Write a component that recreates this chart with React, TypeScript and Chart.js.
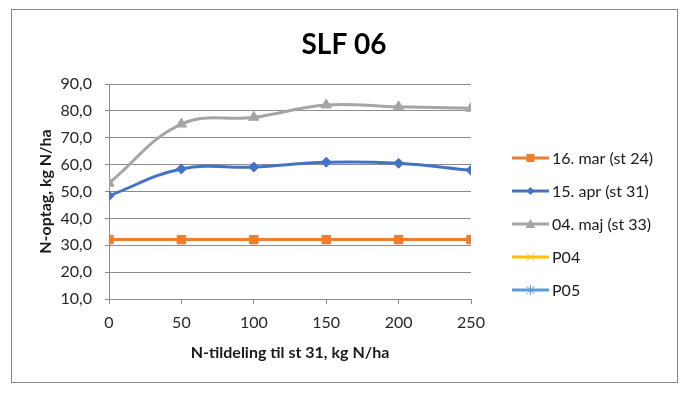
import React, { useEffect, useRef } from "react";
import { Chart, registerables } from "chart.js";

Chart.register(...registerables);

const chartTitle = "SLF 06";
const xAxisTitle = "N-tildeling til st 31, kg N/ha";
const yAxisTitle = "N-optag, kg N/ha";
const xValues = [0, 50, 100, 150, 200, 250];
const mar16 = [32.1, 32.1, 32.1, 32.1, 32.1, 32.1];
const apr15 = [48.4, 58.4, 59.1, 60.9, 60.5, 57.9];
const maj04 = [53.1, 75.1, 77.6, 82.2, 81.5, 81.0];
const p04: number[] = [];
const p05: number[] = [];
const seriesNames = ["16. mar (st 24)", "15. apr (st 31)", "04. maj (st 33)", "P04", "P05"];
const seriesColors = ["#ED7D31", "#4472C4", "#A5A5A5", "#FFC000", "#5B9BD5"];
const seriesMarkers = ["rect", "rectRot", "triangle", "cross", "star"];
const seriesValues = [mar16, apr15, maj04, p04, p05];
const yMin = 10;
const yMax = 90;
const yStep = 10;
const xMin = 0;
const xMax = 250;
const xStep = 50;

const FONT = "Lato, 'Open Sans', sans-serif";

function drawMarker(ctx: CanvasRenderingContext2D, style: string, x: number, y: number, color: string) {
  ctx.save();
  ctx.fillStyle = color;
  ctx.strokeStyle = color;
  ctx.lineWidth = 1;
  ctx.beginPath();
  if (style === "rect") {
    ctx.rect(x - 4, y - 4, 8, 8);
    ctx.fill();
  } else if (style === "rectRot") {
    ctx.moveTo(x, y - 4);
    ctx.lineTo(x + 4, y);
    ctx.lineTo(x, y + 4);
    ctx.lineTo(x - 4, y);
    ctx.closePath();
    ctx.fill();
  } else if (style === "triangle") {
    ctx.moveTo(x, y - 5);
    ctx.lineTo(x + 5, y + 4);
    ctx.lineTo(x - 5, y + 4);
    ctx.closePath();
    ctx.fill();
  } else if (style === "cross") {
    ctx.moveTo(x - 4, y - 4);
    ctx.lineTo(x + 4, y + 4);
    ctx.moveTo(x + 4, y - 4);
    ctx.lineTo(x - 4, y + 4);
    ctx.stroke();
  } else if (style === "star") {
    ctx.moveTo(x - 4, y - 4);
    ctx.lineTo(x + 4, y + 4);
    ctx.moveTo(x + 4, y - 4);
    ctx.lineTo(x - 4, y + 4);
    ctx.moveTo(x, y - 5);
    ctx.lineTo(x, y + 5);
    ctx.stroke();
  }
  ctx.restore();
}

const decorPlugin = {
  id: "decor",
  afterDraw(chart: any) {
    const ctx: CanvasRenderingContext2D = chart.ctx;
    ctx.save();
    // outer border
    ctx.strokeStyle = "#868686";
    ctx.lineWidth = 1;
    ctx.strokeRect(11.5, 9.5, 666, 373);
    // title
    ctx.fillStyle = "#000000";
    ctx.font = `bold 28px ${FONT}`;
    ctx.textAlign = "center";
    ctx.textBaseline = "middle";
    ctx.fillText(chartTitle, 344, 45);
    // legend
    ctx.font = `16px ${FONT}`;
    ctx.textAlign = "left";
    const rowY = 158;
    const rowGap = 33;
    for (let i = 0; i < seriesNames.length; i++) {
      const y = rowY + i * rowGap;
      ctx.strokeStyle = seriesColors[i];
      ctx.lineWidth = 3;
      ctx.beginPath();
      ctx.moveTo(512, y);
      ctx.lineTo(549, y);
      ctx.stroke();
      drawMarker(ctx, seriesMarkers[i], 530.5, y, seriesColors[i]);
      ctx.fillStyle = "#1a1a1a";
      ctx.fillText(seriesNames[i], 552, y + 1);
    }
    ctx.restore();
  },
};

export default function App() {
  const ref = useRef<HTMLCanvasElement | null>(null);
  useEffect(() => {
    document.body.style.margin = "0";
    const canvas = ref.current;
    if (!canvas) return;
    const datasets = seriesValues.map((vals, i) => ({
      label: seriesNames[i],
      data: vals.map((v, j) => ({ x: xValues[j], y: v })),
      borderColor: seriesColors[i],
      backgroundColor: seriesColors[i],
      borderWidth: 3,
      pointStyle: seriesMarkers[i] as any,
      pointRadius: i === 0 ? 6 : i === 1 ? 5 : 6,
      pointBorderWidth: 1,
      tension: i === 0 ? 0 : 0.4,
      cubicInterpolationMode: "default" as const,
    }));
    const chart = new Chart(canvas, {
      type: "line",
      data: { datasets },
      options: {
        animation: false,
        responsive: false,
        layout: { padding: { top: 84, right: 217, left: 0, bottom: 0 } },
        plugins: {
          legend: { display: false },
          title: { display: false },
          tooltip: { enabled: false },
        },
        scales: {
          x: {
            type: "linear",
            min: xMin,
            max: xMax,
            afterFit: (s: any) => {
              s.height = 98;
            },
            ticks: {
              stepSize: xStep,
              color: "#262626",
              font: { family: FONT, size: 16 },
              padding: 9,
              maxRotation: 0,
            },
            grid: {
              display: true,
              drawOnChartArea: false,
              drawTicks: true,
              tickLength: 5,
              color: "#8c8c8c",
            },
            border: { display: true, color: "#8c8c8c", width: 1 },
            title: {
              display: true,
              text: xAxisTitle,
              color: "#1a1a1a",
              font: { family: FONT, size: 16, weight: "bold" },
              padding: { top: 0, bottom: 35 },
            },
          },
          y: {
            type: "linear",
            min: yMin,
            max: yMax,
            afterFit: (s: any) => {
              s.width = 109;
            },
            ticks: {
              stepSize: yStep,
              color: "#262626",
              font: { family: FONT, size: 16 },
              padding: 13,
              callback: (v: any) => Number(v).toFixed(1).replace(".", ","),
            },
            grid: {
              display: true,
              drawTicks: true,
              tickLength: 4,
              color: "#8c8c8c",
            },
            border: { display: true, color: "#8c8c8c", width: 1 },
            title: {
              display: true,
              text: yAxisTitle,
              color: "#1a1a1a",
              font: { family: FONT, size: 16, weight: "bold" },
              padding: { top: 36, bottom: 0 },
            },
          },
        },
      },
      plugins: [decorPlugin],
    });
    return () => chart.destroy();
  }, []);
  return (
    <div style={{ width: 688, height: 397, background: "#ffffff" }}>
      <canvas ref={ref} width={688} height={397} style={{ display: "block" }} />
    </div>
  );
}
